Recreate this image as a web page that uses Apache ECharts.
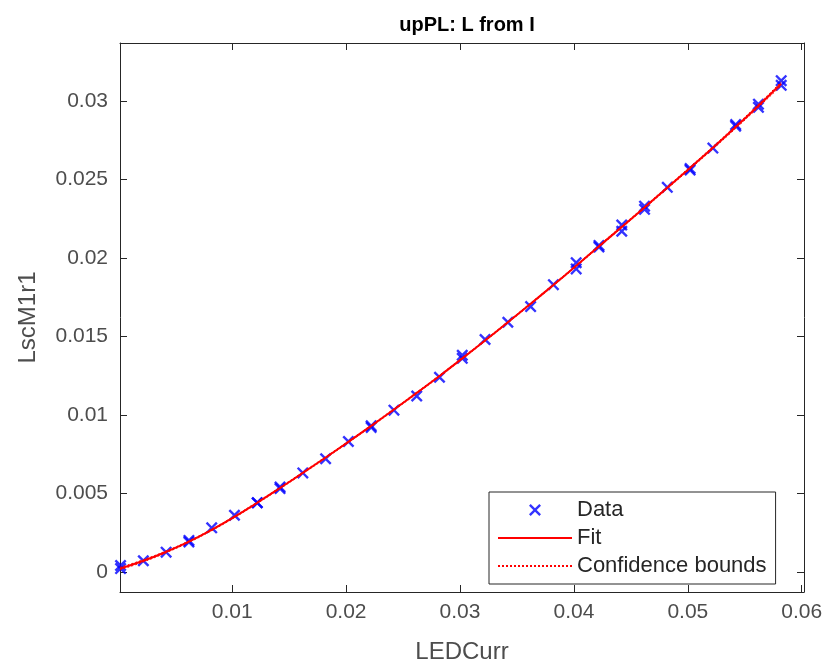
<!DOCTYPE html>
<html>
<head>
<meta charset="utf-8">
<script src="https://cdn.jsdelivr.net/npm/echarts@6/dist/echarts.min.js"></script>
<style>
html,body{margin:0;padding:0;background:#fff;}
#chart{width:830px;height:666px;}
</style>
</head>
<body>
<div id="chart"></div>
<script>
// ---- data ----
const titleText = 'upPL: L from I';
const xName = 'LEDCurr';
const yName = 'LscM1r1';
const legendNames = ['Data', 'Fit', 'Confidence bounds'];

const dataX = [0.0002,0.0002,0.0022,0.0042,0.0062,0.0062,0.0082,0.0102,0.0122,0.0122,0.0142,0.0142,0.0162,0.0182,0.0202,0.0222,0.0222,0.0242,0.0262,0.0282,0.0302,0.0302,0.0322,0.0342,0.0362,0.0382,0.0402,0.0402,0.0422,0.0422,0.0442,0.0442,0.0462,0.0462,0.0482,0.0502,0.0502,0.0522,0.0542,0.0542,0.0562,0.0562,0.0582,0.0582];
const dataY = [0.0002,0.0004,0.0007,0.00125,0.0019,0.0020,0.0028,0.0036,0.0044,0.0044,0.0054,0.0053,0.0063,0.0072,0.0083,0.0093,0.0092,0.0103,0.0112,0.0124,0.0136,0.0138,0.0148,0.0159,0.0169,0.0183,0.0197,0.0193,0.0207,0.0208,0.0221,0.0217,0.0233,0.0231,0.0245,0.0257,0.0256,0.0270,0.0284,0.0285,0.0298,0.0296,0.0313,0.0310];

const fitX = [0.00015,0.0022,0.0042,0.0062,0.0082,0.0102,0.0122,0.0142,0.0162,0.0182,0.0202,0.0222,0.0242,0.0262,0.0282,0.0302,0.0322,0.0342,0.0362,0.0382,0.0402,0.0422,0.0442,0.0462,0.0482,0.0502,0.0522,0.0542,0.0562,0.0582];
const fitY = [0.00020,0.00070,0.00127,0.00192,0.00267,0.00350,0.00440,0.00534,0.00630,0.00728,0.00828,0.00930,0.01034,0.01140,0.01248,0.01360,0.01474,0.01590,0.01708,0.01828,0.01950,0.02074,0.02198,0.02322,0.02448,0.02574,0.02702,0.02834,0.02970,0.03110];
const lowerY = [0.00012,0.00063,0.00121,0.00187,0.00262,0.00345,0.00435,0.00529,0.00625,0.00723,0.00823,0.00925,0.01029,0.01135,0.01243,0.01355,0.01469,0.01585,0.01703,0.01823,0.01945,0.02068,0.02192,0.02316,0.02441,0.02567,0.02694,0.02825,0.02960,0.03098];
const upperY = [0.00028,0.00077,0.00133,0.00197,0.00272,0.00355,0.00445,0.00539,0.00635,0.00733,0.00833,0.00935,0.01039,0.01145,0.01253,0.01365,0.01479,0.01595,0.01713,0.01833,0.01955,0.02080,0.02204,0.02328,0.02455,0.02581,0.02710,0.02843,0.02980,0.03122];

const xRange = [0.00015, 0.0602];
const yRange = [-0.00129, 0.0337];
const xStep = 0.01;
const yStep = 0.005;

// ---- build ----
const pairs = (xs, ys) => xs.map((x, i) => [x, ys[i]]);
const axisColor = '#262626';
const labelColor = '#4d4d4d';
const font = 'Liberation Sans, Arial, Helvetica, sans-serif';
const xMark = 'path://M0,1.4L1.4,0L5,3.6L8.6,0L10,1.4L6.4,5L10,8.6L8.6,10L5,6.4L1.4,10L0,8.6L3.6,5Z';

function fmt(v, step) {
  const k = Math.round(v / step);
  if (Math.abs(v - k * step) > step * 1e-6) return '';
  return String(+(k * step).toFixed(6));
}

const baseAxis = {
  type: 'value',
  axisLine: { show: true, onZero: false, lineStyle: { color: axisColor, width: 1 } },
  axisTick: { show: true, inside: true, length: 7, lineStyle: { color: axisColor, width: 1 } },
  splitLine: { show: false }
};

const hiddenSymbol = { opacity: 0 };

const chart = echarts.init(document.getElementById('chart'), null, { renderer: 'canvas' });
chart.setOption({
  backgroundColor: '#ffffff',
  animation: false,
  title: {
    text: titleText,
    left: 462, top: 10, textAlign: 'center',
    textStyle: { fontFamily: font, fontSize: 20, fontWeight: 'bold', color: '#000' }
  },
  grid: { left: 120, top: 43, right: 26, bottom: 74, containLabel: false, outerBoundsMode: 'none' },
  legend: {
    data: [
      { name: legendNames[0] },
      { name: legendNames[1], itemStyle: hiddenSymbol },
      { name: legendNames[2], itemStyle: hiddenSymbol }
    ],
    orient: 'vertical',
    left: 489, top: 492,
    padding: [7, 9, 7, 8],
    itemWidth: 74, itemHeight: 12, itemGap: 6,
    borderColor: axisColor, borderWidth: 1, backgroundColor: '#ffffff',
    textStyle: { fontFamily: font, fontSize: 22, color: '#262626' }
  },
  xAxis: [
    Object.assign({}, baseAxis, {
      position: 'bottom', min: xRange[0], max: xRange[1],
      splitNumber: 6, minInterval: xStep, maxInterval: xStep,
      name: xName, nameLocation: 'middle', nameGap: 48,
      nameTextStyle: { fontFamily: font, fontSize: 24, color: labelColor },
      axisLabel: { margin: 10, showMinLabel: false, showMaxLabel: false,
        fontFamily: font, fontSize: 21, color: labelColor,
        formatter: v => fmt(v, xStep) }
    }),
    Object.assign({}, baseAxis, {
      position: 'top', min: xRange[0], max: xRange[1],
      splitNumber: 6, minInterval: xStep, maxInterval: xStep,
      axisLabel: { show: false }
    })
  ],
  yAxis: [
    Object.assign({}, baseAxis, {
      position: 'left', min: yRange[0], max: yRange[1],
      splitNumber: 7, minInterval: yStep, maxInterval: yStep,
      name: yName, nameLocation: 'middle', nameGap: 80,
      nameTextStyle: { fontFamily: font, fontSize: 24, color: labelColor },
      axisLabel: { margin: 12, showMinLabel: false, showMaxLabel: false,
        fontFamily: font, fontSize: 21, color: labelColor,
        formatter: v => fmt(v, yStep) }
    }),
    Object.assign({}, baseAxis, {
      position: 'right', min: yRange[0], max: yRange[1],
      splitNumber: 7, minInterval: yStep, maxInterval: yStep,
      axisLabel: { show: false }
    })
  ],
  series: [
    {
      name: 'Data', type: 'scatter', xAxisIndex: 0, yAxisIndex: 0,
      symbol: xMark, symbolSize: 12,
      itemStyle: { color: '#0000ff', opacity: 0.8 },
      data: pairs(dataX, dataY)
    },
    {
      name: 'Fit', type: 'line', xAxisIndex: 0, yAxisIndex: 0,
      symbol: 'none', smooth: true,
      lineStyle: { color: '#ff0000', width: 2 },
      itemStyle: { color: '#ff0000' },
      data: pairs(fitX, fitY)
    },
    {
      name: 'Confidence bounds', type: 'line', xAxisIndex: 0, yAxisIndex: 0,
      symbol: 'none', smooth: true,
      lineStyle: { color: '#ff0000', width: 1, type: [2, 2] },
      itemStyle: { color: '#ff0000' },
      data: pairs(fitX, lowerY)
    },
    {
      name: 'Confidence bounds', type: 'line', xAxisIndex: 0, yAxisIndex: 0,
      symbol: 'none', smooth: true,
      lineStyle: { color: '#ff0000', width: 1, type: [2, 2] },
      itemStyle: { color: '#ff0000' },
      data: pairs(fitX, upperY)
    }
  ]
});
</script>
</body>
</html>
